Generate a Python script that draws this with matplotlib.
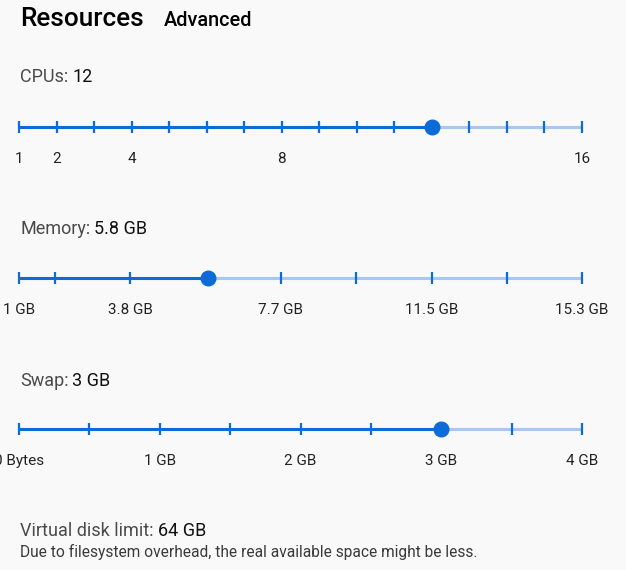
import numpy as np
import matplotlib
matplotlib.use("Agg")
import matplotlib.pyplot as plt

plt.rcParams['font.family'] = ['Roboto', 'DejaVu Sans']

W, H = 626, 570

# Datos de los deslizadores
cpu_min, cpu_max, cpu_value = 1, 16, 12
cpu_ticks = list(range(1, 17))
cpu_label_vals = [1, 2, 4, 8, 16]
cpu_labels = ["1", "2", "4", "8", "16"]

mem_min, mem_max, mem_value = 1.0, 15.3, 5.8
mem_ticks = [1.0, 1.91, 3.83, 5.74, 7.65, 9.56, 11.48, 13.39, 15.3]
mem_label_vals = [1.0, 3.83, 7.65, 11.48, 15.3]
mem_labels = ["1 GB", "3.8 GB", "7.7 GB", "11.5 GB", "15.3 GB"]

swap_min, swap_max, swap_value = 0.0, 4.0, 3.0
swap_ticks = [0.0, 0.5, 1.0, 1.5, 2.0, 2.5, 3.0, 3.5, 4.0]
swap_label_vals = [0.0, 1.0, 2.0, 3.0, 4.0]
swap_labels = ["0 Bytes", "1 GB", "2 GB", "3 GB", "4 GB"]

azul = "#0b6cd7"
azul_claro = "#a9c8ef"
fondo = "#f9f9f9"

fig = plt.figure(figsize=(W/100, H/100), dpi=100, facecolor=fondo)


def fx(px):
    return px / W


def fy(py):
    return 1 - py / H


# Texto con dos colores: "Etiqueta:" gris y valor negro
def etiqueta(x, y, nombre, valor, size=13):
    t = fig.text(fx(x), fy(y), nombre, color="#4a4a4a", fontsize=size, va="center")
    r = fig.canvas.get_renderer()
    bb = t.get_window_extent(renderer=r)
    fig.text((bb.x1 + 4) / W, fy(y), valor, color="#111111", fontsize=size, va="center")


def slider(y, vmin, vmax, valor, ticks, label_vals, labels):
    ax = fig.add_axes([fx(19), fy(y + 10), fx(582) - fx(19), 20 / H])
    ax.set_xlim(vmin, vmax)
    ax.set_ylim(-1, 1)
    ax.set_facecolor("none")
    for s in ax.spines.values():
        s.set_visible(False)
    ax.set_yticks([])
    ax.plot([valor, vmax], [0, 0], color=azul_claro, lw=2.2, clip_on=False, solid_capstyle="butt")
    ax.plot([vmin, valor], [0, 0], color=azul, lw=2.2, clip_on=False, solid_capstyle="butt")
    ax.plot(ticks, [0] * len(ticks), ls="none", marker="|", ms=8, mew=1.6, color=azul, clip_on=False)
    ax.plot([valor], [0], ls="none", marker="o", ms=10.5, color=azul, mec=azul, clip_on=False, zorder=5)
    ax.set_xticks(label_vals, labels)
    ax.tick_params(axis="x", length=0, pad=11, labelsize=11, labelcolor="#222222")
    return ax


fig.text(fx(20), fy(19), "Resources", fontsize=18.8, fontweight="medium", color="black", va="center")
fig.text(fx(164), fy(20.5), "Advanced", fontsize=14.3, fontweight="medium", color="black", va="center")

etiqueta(20, 77.5, "CPUs:", str(cpu_value))
slider(127, cpu_min, cpu_max, cpu_value, cpu_ticks, cpu_label_vals, cpu_labels)

etiqueta(20, 229.5, "Memory:", f"{mem_value} GB")
slider(278, mem_min, mem_max, mem_value, mem_ticks, mem_label_vals, mem_labels)

etiqueta(20, 380.5, "Swap:", f"{swap_value:g} GB")
slider(429, swap_min, swap_max, swap_value, swap_ticks, swap_label_vals, swap_labels)

etiqueta(20, 530.5, "Virtual disk limit:", "64 GB")
fig.text(fx(20), fy(552), "Due to filesystem overhead, the real available space might be less.",
         fontsize=11.2, color="#3a3a3a", va="center")

fig.savefig("out.png", dpi=100, facecolor=fondo)
